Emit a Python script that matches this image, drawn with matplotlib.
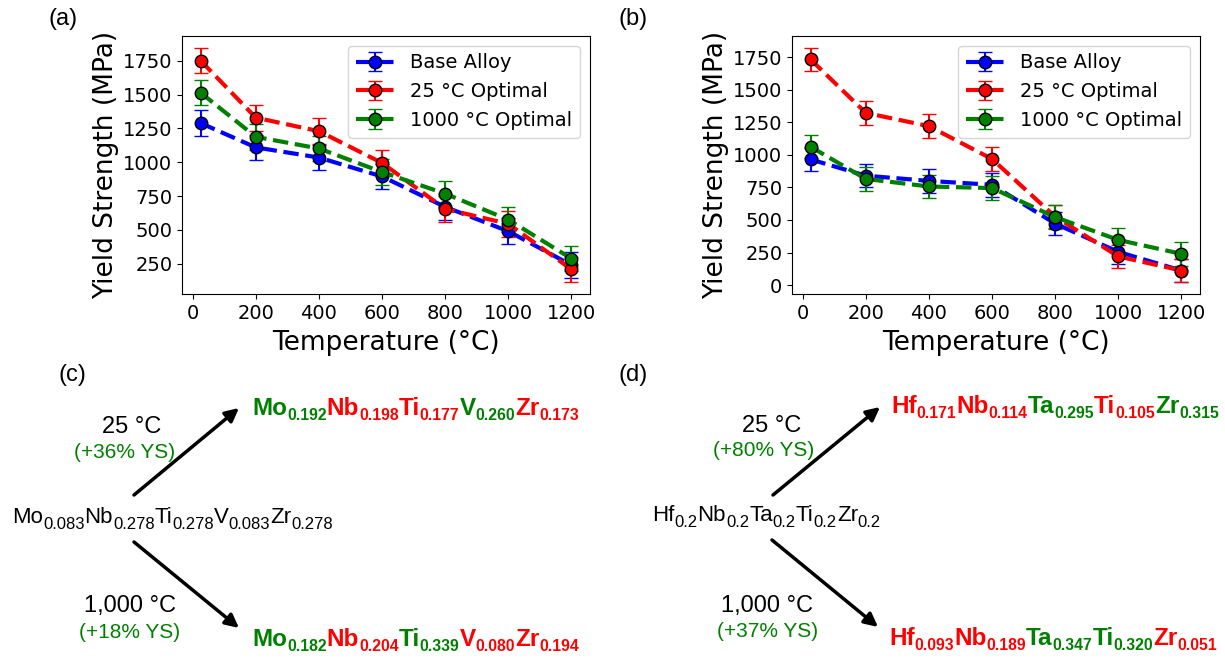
import matplotlib
matplotlib.use("Agg")
from matplotlib import pyplot as plt
from matplotlib.patches import FancyArrowPatch
from matplotlib.ticker import MultipleLocator

# temperatures (deg C)
temps = [25, 200, 400, 600, 800, 1000, 1200]

# panel (a): MoNbTiVZr
base_a = [1290, 1110, 1035, 895, 670, 490, 240]
opt25_a = [1752, 1330, 1230, 995, 655, 545, 208]
opt1000_a = [1515, 1188, 1102, 928, 768, 576, 288]
err_a = [95, 95, 95, 95, 95, 95, 95]

# panel (b): HfNbTaTiZr
base_b = [965, 840, 800, 770, 472, 255, 112]
opt25_b = [1732, 1322, 1220, 968, 525, 220, 112]
opt1000_b = [1062, 815, 757, 745, 522, 347, 240]
err_b = [90, 90, 90, 90, 90, 90, 90]

labels = ["Base Alloy", "25 \u00b0C Optimal", "1000 \u00b0C Optimal"]
colors = ["blue", "red", "green"]

# panel (c)/(d) compositions
base_c = [("Mo", "0.083"), ("Nb", "0.278"), ("Ti", "0.278"), ("V", "0.083"), ("Zr", "0.278")]
top_c = [("Mo", "0.192"), ("Nb", "0.198"), ("Ti", "0.177"), ("V", "0.260"), ("Zr", "0.173")]
top_c_col = ["green", "red", "red", "green", "red"]
bot_c = [("Mo", "0.182"), ("Nb", "0.204"), ("Ti", "0.339"), ("V", "0.080"), ("Zr", "0.194")]
bot_c_col = ["green", "red", "green", "red", "red"]

base_d = [("Hf", "0.2"), ("Nb", "0.2"), ("Ta", "0.2"), ("Ti", "0.2"), ("Zr", "0.2")]
top_d = [("Hf", "0.171"), ("Nb", "0.114"), ("Ta", "0.295"), ("Ti", "0.105"), ("Zr", "0.315")]
top_d_col = ["red", "red", "green", "red", "green"]
bot_d = [("Hf", "0.093"), ("Nb", "0.189"), ("Ta", "0.347"), ("Ti", "0.320"), ("Zr", "0.051")]
bot_d_col = ["red", "red", "green", "green", "red"]

W, H = 1225, 659
fig = plt.figure(figsize=(W / 100, H / 100), dpi=100)


def fx(x):
    return x / W


def fy(y):
    return 1 - y / H


def panel(left, data, err):
    ax = fig.add_axes([fx(left), fy(294), 408 / W, 258 / H])
    for vals, lab, c in zip(data, labels, colors):
        ax.errorbar(temps, vals, yerr=err, fmt="o--", color=c, lw=3, ms=9,
                    mec="black", mew=1, ecolor=c, elinewidth=1.5,
                    capsize=5, capthick=1.5, label=lab)
    ax.set_xticks([0, 200, 400, 600, 800, 1000, 1200])
    ax.yaxis.set_major_locator(MultipleLocator(250))
    ax.tick_params(labelsize=14)
    ax.set_xlabel("Temperature (\u00b0C)", fontsize=19, labelpad=5)
    ax.set_ylabel("Yield Strength (MPa)", fontsize=19, labelpad=3)
    ax.legend(loc="upper right", fontsize=14)
    return ax


panel(182, [base_a, opt25_a, opt1000_a], err_a)
panel(792, [base_b, opt25_b, opt1000_b], err_b)

FONT = "Liberation Sans"
for s, x, y in [("(a)", 49, 25), ("(b)", 618, 25), ("(c)", 58, 381), ("(d)", 618, 381)]:
    fig.text(fx(x), fy(y), s, fontsize=17, family=FONT, va="baseline")

renderer = fig.canvas.get_renderer()


def formula(x, y, parts, cols, size, subsize, drop, weight):
    for (el, sub), c in zip(parts, cols):
        t = fig.text(fx(x), fy(y), el, color=c, fontsize=size, fontweight=weight,
                     family=FONT, va="baseline")
        x += t.get_window_extent(renderer).width
        t = fig.text(fx(x), fy(y + drop), sub, color=c, fontsize=subsize,
                     fontweight=weight, family=FONT, va="baseline")
        x += t.get_window_extent(renderer).width


formula(12, 523, base_c, ["black"] * 5, 16, 12, 6, "normal")
formula(252, 415, top_c, top_c_col, 17.5, 11.3, 5, "bold")
formula(252, 646, bot_c, bot_c_col, 17.5, 11.3, 5, "bold")
formula(652, 521, base_d, ["black"] * 5, 16, 12, 6, "normal")
formula(891, 413, top_d, top_d_col, 17.5, 11.3, 5, "bold")
formula(889, 645, bot_d, bot_d_col, 17.5, 11.3, 5, "bold")

# condition labels
for s, x, y, c, size in [("25 \u00b0C", 132, 433, "black", 17),
                         ("(+36% YS)", 125, 458, "green", 15),
                         ("1,000 \u00b0C", 130, 612, "black", 17),
                         ("(+18% YS)", 130, 638, "green", 15),
                         ("25 \u00b0C", 772, 432, "black", 17),
                         ("(+80% YS)", 764, 456, "green", 15),
                         ("1,000 \u00b0C", 767, 612, "black", 17),
                         ("(+37% YS)", 768, 637, "green", 15)]:
    fig.text(fx(x), fy(y), s, color=c, fontsize=size, family=FONT,
             ha="center", va="baseline")

# arrows
for a, b in [((134, 495), (239, 408)), ((134, 542), (239, 628)),
             ((773, 495), (880, 407)), ((772, 540), (878, 627))]:
    fig.add_artist(FancyArrowPatch((fx(a[0]), fy(a[1])), (fx(b[0]), fy(b[1])),
                                   transform=fig.transFigure, arrowstyle="-|>",
                                   mutation_scale=20, lw=2.5, color="black",
                                   shrinkA=0, shrinkB=0))

fig.savefig("out.png", dpi=100)
